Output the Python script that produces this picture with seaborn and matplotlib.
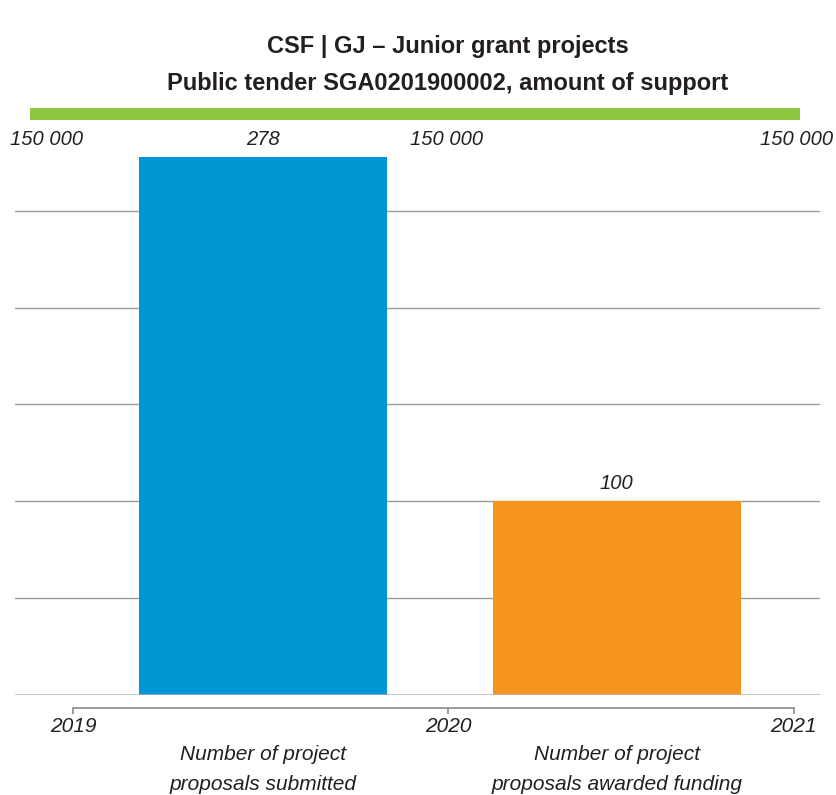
import numpy as np
import pandas as pd
import matplotlib.pyplot as plt
import seaborn as sns

# Data
categories = ["Number of project\nproposals submitted",
              "Number of project\nproposals awarded funding"]
counts = [278, 100]
years = ["2019", "2020", "2021"]
amounts = [150000, 150000, 150000]
title = "CSF | GJ – Junior grant projects\nPublic tender SGA0201900002, amount of support"

# Layout (category-axis units)
year_pos = [-0.536, 0.524, 1.500]
amount_pos = [-0.61, 0.52, 1.509]
bar_colors = ["#0096D6", "#F7941D"]
green = "#8DC63F"
text_color = "#231F20"

sns.set_style("white")
plt.rcParams["font.family"] = ["Liberation Sans", "DejaVu Sans"]

df = pd.DataFrame({"category": categories, "count": counts})

fig = plt.figure(figsize=(8.37, 7.95), dpi=100)
ax = fig.add_axes([15 / 837, 1 - 694.5 / 795, 805 / 837, 580.2 / 795])

sns.barplot(data=df, x="category", y="count", hue="category",
            palette=bar_colors, width=0.70, saturation=1, legend=False,
            linewidth=0, ax=ax, zorder=3)

ax.set_xlim(-0.700, 1.574)
ax.set_ylim(0, 300)

# grid
ax.set_yticks([50, 100, 150, 200, 250])
ax.yaxis.grid(True, color="#9a9a9a", linewidth=1.0, zorder=0)
ax.tick_params(axis="y", left=False, labelleft=False)
for s in ax.spines.values():
    s.set_visible(False)
ax.axhline(0, color="#b4b4b4", linewidth=1.8, zorder=4)

# green bar on top
ax.axhline(300, xmin=(-0.658 + 0.700) / 2.274, xmax=(1.518 + 0.700) / 2.274,
           color=green, linewidth=8.6, solid_capstyle="butt", clip_on=False)

# amounts above
for xp, a in zip(amount_pos, amounts):
    ax.text(xp, 287, f"{a:,}".replace(",", " "), ha="center", va="center",
            fontsize=14.5, style="italic", color=text_color)

# value labels
for i, v in enumerate(counts):
    ax.annotate(str(v), (i, v), xytext=(0, 5.5), textcoords="offset points",
                ha="center", va="bottom", fontsize=14.5, style="italic",
                color=text_color)

# category labels
ax.set_xlabel("")
ax.set_ylabel("")
ax.set_xticks(range(len(categories)))
ax.set_xticklabels(categories, fontsize=15, style="italic", color=text_color,
                   linespacing=1.75)
ax.tick_params(axis="x", bottom=False, pad=33)

# timeline with years
sec = ax.secondary_xaxis(-13.2 / 580.2)
sec.set_xticks(year_pos)
sec.set_xticklabels(years, fontsize=15, style="italic", color=text_color)
sec.tick_params(axis="x", direction="out", length=4, width=1.2,
                color="#8a8a8a", pad=3)
sec.spines["bottom"].set_bounds(year_pos[0], year_pos[-1])
sec.spines["bottom"].set_color("#8a8a8a")
sec.spines["bottom"].set_linewidth(1.2)

fig.text(448 / 837, 1 - 65 / 795, title, ha="center", va="center",
         fontsize=17, fontweight="bold", color=text_color, linespacing=1.75)

fig.savefig("out.png", dpi=100)
